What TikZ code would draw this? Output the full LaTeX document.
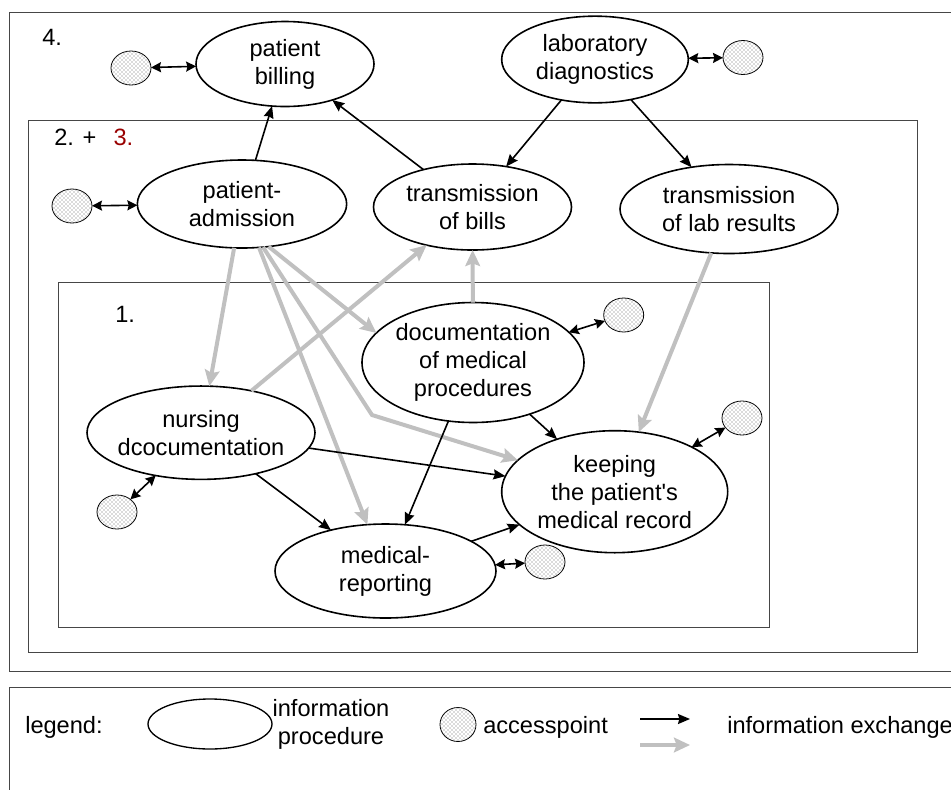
\documentclass[tikz,border=0pt]{standalone}
\usepackage{fontspec}
\setmainfont{Liberation Sans}
\usetikzlibrary{shapes.geometric,arrows.meta,patterns}
\definecolor{linkgray}{RGB}{192,192,192}
\definecolor{framegray}{RGB}{70,70,70}
\definecolor{darkred}{RGB}{153,0,0}

\begin{document}
\begin{tikzpicture}[x=0.75pt,y=-0.75pt,
  proc/.style={ellipse, draw, line width=1.2pt, fill=white, inner sep=0pt, outer sep=0pt},
  ptext/.style={align=center, font=\fontsize{17.7}{21}\selectfont, inner sep=0pt},
  access/.style={ellipse, draw, line width=0.6pt, fill=white,
    postaction={pattern=crosshatch dots, pattern color=black!60},
    minimum width=30pt, minimum height=25.5pt, inner sep=0pt, outer sep=0pt},
  frame/.style={draw=framegray, line width=0.75pt},
  flow/.style={draw, line width=1.2pt, -{Stealth[length=9pt,width=7.5pt,inset=1pt]}},
  both/.style={draw, line width=1.2pt,
    {Stealth[length=7.5pt,width=7.5pt,inset=1pt]}-{Stealth[length=7.5pt,width=7.5pt,inset=1pt]}},
  gflow/.style={draw=linkgray, line width=3pt,
    -{Stealth[length=12pt,width=11pt,inset=2pt,color=linkgray]}},
  lbl/.style={font=\fontsize{17.7}{21}\selectfont, inner sep=0pt, anchor=base west}
]
\useasboundingbox (0,0) rectangle (951,790);
\clip (0,0) rectangle (951,790);
\fill[white] (0,0) rectangle (951,790);

% nested scopes 4 / 2+3 / 1 and the legend frame
\draw[frame] (9,12) rectangle (980,671.7);
\draw[frame] (28.7,120.3) rectangle (917,652);
\draw[frame] (58.3,282.7) rectangle (769,627.7);
\draw[frame] (9,687.7) rectangle (980,820);

\node[lbl] (n4) at (42,45.7) {4.};
\node[lbl] (n23) at (54,145) {2. +};
\node[lbl, text=darkred] (n3) at (113.3,145) {3.};
\node[lbl] (n1) at (115,322.7) {1.};

% information procedures
\node[proc, minimum width=133.5pt, minimum height=63.75pt] (bill) at (285,64) {};
\node[ptext] (bill-t) at (bill) {patient\\billing};
\node[proc, minimum width=140pt, minimum height=65pt] (lab) at (595,59.5) {};
\node[ptext] (lab-t) at (lab) {laboratory\\diagnostics};
\node[proc, minimum width=157pt, minimum height=66pt] (adm) at (242,204) {};
\node[ptext] (adm-t) at (adm) {patient-\\admission};
\node[proc, minimum width=148.5pt, minimum height=64.5pt] (bills) at (472.5,207) {};
\node[ptext] (bills-t) at (bills) {transmission\\of bills};
\node[proc, minimum width=163.5pt, minimum height=66.75pt] (labres) at (729,209) {};
\node[ptext] (labres-t) at (labres) {transmission\\of lab results};
\node[proc, minimum width=166.5pt, minimum height=90pt] (doc) at (473,362.5) {};
\node[ptext] (doc-t) at (doc) {documentation\\of medical\\procedures};
\node[proc, minimum width=171pt, minimum height=70pt] (nurs) at (201,432.7) {};
\node[ptext] (nurs-t) at (nurs) {nursing\\dcocumentation};
\node[proc, minimum width=165.75pt, minimum height=70.5pt] (medrep) at (385.5,571) {};
\node[ptext] (medrep-t) at (medrep) {medical-\\reporting};
\node[proc, minimum width=169.5pt, minimum height=91.5pt] (keep) at (614.7,491.7) {};
\node[ptext] (keep-t) at (keep) {keeping\\the patient\textquotesingle s\\medical record};

% access points
\node[access] (ap-bill) at (131,68) {};
\node[access] (ap-adm) at (72,206) {};
\node[access] (ap-lab) at (743,57.5) {};
\node[access] (ap-doc) at (623.7,315) {};
\node[access] (ap-keep) at (742,418) {};
\node[access] (ap-med) at (545,562) {};
\node[access] (ap-nurs) at (117,512) {};

% grey information exchange
\coordinate (bend) at (372,415);
\draw[gflow] (adm) -- (nurs);
\draw[gflow] (adm) -- (medrep);
\draw[gflow] (adm.-58) -- (doc.163);
\draw[gflow] (adm.-64) -- (bend) -- (keep.162);
\draw[gflow] (doc) -- (bills);
\draw[gflow] (nurs) -- (bills);
\draw[gflow] (labres) -- (keep);

% black information exchange
\draw[flow] (adm) -- (bill);
\draw[flow] (bills) -- (bill);
\draw[flow] (lab) -- (bills);
\draw[flow] (lab) -- (labres);
\draw[flow] (nurs) -- (keep);
\draw[flow] (nurs) -- (medrep);
\draw[flow] (doc) -- (medrep);
\draw[flow] (doc) -- (keep);
\draw[flow] (medrep) -- (keep);

% access point links
\draw[both] (ap-bill) -- (bill);
\draw[both] (ap-adm) -- (adm);
\draw[both] (lab) -- (ap-lab);
\draw[both] (doc) -- (ap-doc);
\draw[both] (keep) -- (ap-keep);
\draw[both] (medrep) -- (ap-med);
\draw[both] (nurs) -- (ap-nurs);

% legend
\node[lbl] (lg) at (25,733) {legend:};
\node[proc, minimum width=93pt, minimum height=37.5pt, line width=1pt] (lg-ell) at (210,724) {};
\node[ptext] (lg-ell-t) at (331,724) {information\\procedure};
\node[access, minimum width=27pt] (lg-ap) at (458,724.5) {};
\node[lbl] (lg-ap-t) at (483,733) {accesspoint};
\coordinate (lb1) at (640,719);
\coordinate (lb2) at (690,719);
\draw[flow] (lb1) -- (lb2);
\coordinate (lg1) at (640,745);
\coordinate (lg2) at (690,745);
\draw[gflow] (lg1) -- (lg2);
\node[lbl] (lg-ex) at (727,733) {information exchange};
\end{tikzpicture}
\end{document}
